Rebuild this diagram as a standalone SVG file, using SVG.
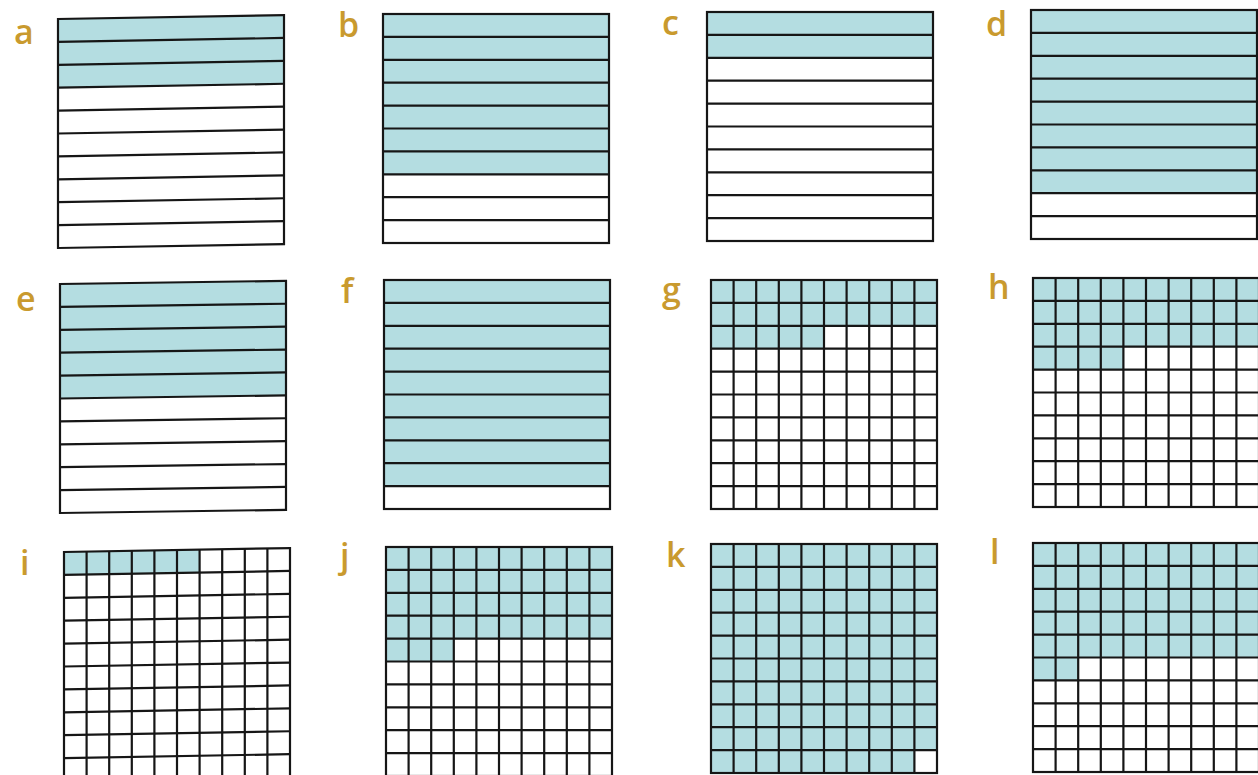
<svg xmlns="http://www.w3.org/2000/svg" xmlns:xlink="http://www.w3.org/1999/xlink" width="1258" height="775" viewBox="0 0 1258 775">
<style>
.lbl{font-family:"Open Sans","DejaVu Sans",sans-serif;font-weight:600;font-size:34px;fill:#C99A2E}
.ln{stroke:#161616;stroke-width:2.2;fill:none}
.sh{fill:#B4DDE1}
</style>
<defs>
<g id="strips" class="ln">
<rect x="0" y="0" width="226" height="229"/>
<path d="M0 22.9H226M0 45.8H226M0 68.7H226M0 91.6H226M0 114.5H226M0 137.4H226M0 160.3H226M0 183.2H226M0 206.1H226"/>
</g>
<g id="grid" class="ln">
<rect x="0" y="0" width="226" height="229"/>
<path d="M0 22.9H226M0 45.8H226M0 68.7H226M0 91.6H226M0 114.5H226M0 137.4H226M0 160.3H226M0 183.2H226M0 206.1H226"/>
<path d="M22.6 0V229M45.2 0V229M67.8 0V229M90.4 0V229M113 0V229M135.6 0V229M158.2 0V229M180.8 0V229M203.4 0V229"/>
</g>
</defs>
<rect width="1258" height="775" fill="#ffffff"/>

<g id="panel-a">
<text class="lbl" x="14" y="44">a</text>
<g transform="translate(58,19) skewY(-1)">
<rect class="sh" x="0" y="0" width="226" height="68.7"/>
<use xlink:href="#strips"/>
</g>
</g>

<g id="panel-b">
<text class="lbl" x="338" y="37">b</text>
<g transform="translate(383,14)">
<rect class="sh" x="0" y="0" width="226" height="160.3"/>
<use xlink:href="#strips"/>
</g>
</g>

<g id="panel-c">
<text class="lbl" x="662" y="35">c</text>
<g transform="translate(707,12)">
<rect class="sh" x="0" y="0" width="226" height="45.8"/>
<use xlink:href="#strips"/>
</g>
</g>

<g id="panel-d">
<text class="lbl" x="986" y="36">d</text>
<g transform="translate(1031,10)">
<rect class="sh" x="0" y="0" width="226" height="183.2"/>
<use xlink:href="#strips"/>
</g>
</g>

<g id="panel-e">
<text class="lbl" x="16" y="311">e</text>
<g transform="translate(60,284) skewY(-0.8)">
<rect class="sh" x="0" y="0" width="226" height="114.5"/>
<use xlink:href="#strips"/>
</g>
</g>

<g id="panel-f">
<text class="lbl" x="341" y="303">f</text>
<g transform="translate(384,280)">
<rect class="sh" x="0" y="0" width="226" height="206.1"/>
<use xlink:href="#strips"/>
</g>
</g>

<g id="panel-g">
<text class="lbl" x="662" y="302">g</text>
<g transform="translate(711,280)">
<path class="sh" d="M0 0H226V45.8H113V68.7H0Z"/>
<use xlink:href="#grid"/>
</g>
</g>

<g id="panel-h">
<text class="lbl" x="988" y="299">h</text>
<g transform="translate(1033,278)">
<path class="sh" d="M0 0H226V68.7H90.4V91.6H0Z"/>
<use xlink:href="#grid"/>
</g>
</g>

<g id="panel-i">
<text class="lbl" x="20" y="575">i</text>
<g transform="translate(64,552) skewY(-1)">
<path class="sh" d="M0 0H135.6V22.9H0Z"/>
<use xlink:href="#grid"/>
</g>
</g>

<g id="panel-j">
<text class="lbl" x="340" y="568">j</text>
<g transform="translate(386,547)">
<path class="sh" d="M0 0H226V91.6H67.8V114.5H0Z"/>
<use xlink:href="#grid"/>
</g>
</g>

<g id="panel-k">
<text class="lbl" x="666" y="567">k</text>
<g transform="translate(711,544)">
<path class="sh" d="M0 0H226V206.1H203.4V229H0Z"/>
<use xlink:href="#grid"/>
</g>
</g>

<g id="panel-l">
<text class="lbl" x="990" y="564">l</text>
<g transform="translate(1033,543)">
<path class="sh" d="M0 0H226V114.5H45.2V137.4H0Z"/>
<use xlink:href="#grid"/>
</g>
</g>
</svg>
